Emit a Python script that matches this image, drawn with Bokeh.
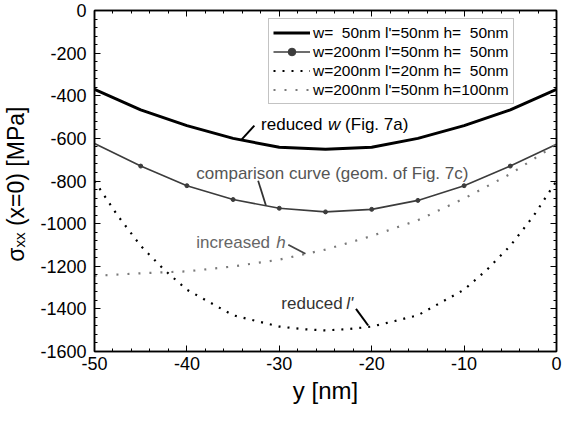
from bokeh.plotting import figure
from bokeh.models import (Label, Legend, LegendItem, LinearAxis, SingleIntervalTicker, Range1d,
                          PrintfTickFormatter)
from bokeh.embed import file_html
from bokeh.resources import INLINE

# ---- data ----
y_nm = [-50, -45, -40, -35, -30, -25, -20, -15, -10, -5, 0]
sigma_w50 = [-370, -466, -540, -600, -642, -651, -642, -600, -540, -466, -370]
sigma_ref = [-624, -730, -822, -887, -928, -945, -933, -891, -822, -730, -628]
sigma_h100 = [-1245, -1233, -1224, -1201, -1169, -1122, -1058, -984, -882, -767, -628]
y_nm_fine = [-50, -47.5, -45, -42.5, -40, -37.5, -35, -32.5, -30, -27.5, -25,
             -22.5, -20, -17.5, -15, -12.5, -10, -7.5, -5, -2.5, 0]
sigma_lp20 = [-800, -962, -1104, -1215, -1310, -1370, -1430, -1457, -1483, -1495, -1501,
              -1495, -1483, -1457, -1430, -1370, -1310, -1215, -1104, -965, -800]

x_ticks = [-50, -40, -30, -20, -10, 0]
y_ticks = [-1600, -1400, -1200, -1000, -800, -600, -400, -200, 0]

legend_labels = ["w=  50nm l'=50nm h=  50nm",
                 "w=200nm l'=50nm h=  50nm",
                 "w=200nm l'=20nm h=  50nm",
                 "w=200nm l'=50nm h=100nm"]

# annotation texts and anchors (data coords)
ann_w = (-31.97, -536)
ann_cmp = (-38.98, -767)
ann_h = (-38.98, -1090)
ann_lp = (-29.78, -1374)
ptr_w = ([-34.06, -32.7], [-605, -540])
ptr_cmp = ([-32.29, -31.45], [-799, -915])
ptr_h = ([-29.03, -27.17], [-1099, -1141])
ptr_lp = ([-21.7, -20.38], [-1400, -1478])

FONT = "Liberation Sans"

p = figure(width=562, height=406, output_backend="svg", toolbar_location=None,
           x_range=Range1d(-50, 0), y_range=Range1d(-1600, 0),
           min_border_left=91, min_border_right=6, min_border_top=10, min_border_bottom=54)
p.xgrid.visible = False
p.ygrid.visible = False
p.outline_line_color = "black"
p.outline_line_width = 1.5
p.background_fill_color = "white"
p.border_fill_color = "white"

p.xaxis.ticker = SingleIntervalTicker(interval=10, num_minor_ticks=5)
p.yaxis.ticker = SingleIntervalTicker(interval=200, num_minor_ticks=5)

for ax in [p.xaxis[0], p.yaxis[0]]:
    ax.formatter = PrintfTickFormatter(format="%d")
    ax.major_tick_in = 6
    ax.major_tick_out = 0
    ax.minor_tick_in = 3
    ax.minor_tick_out = 0
    ax.axis_line_width = 1.5
    ax.axis_line_color = "black"
    ax.major_label_text_font = FONT
    ax.major_label_text_font_size = "18px"
    ax.major_label_text_color = "black"
    ax.axis_label_text_font = FONT
    ax.axis_label_text_font_style = "normal"
    ax.axis_label_text_color = "black"

p.xaxis.axis_label = "y [nm]"
p.xaxis.axis_label_text_font_size = "24px"
p.xaxis.major_label_standoff = 5
p.xaxis.axis_label_standoff = 4
p.yaxis.axis_label = "σₓₓ (x=0)  [MPa]"
p.yaxis.axis_label_text_font_size = "23px"
p.yaxis.major_label_standoff = 8
p.yaxis.axis_label_standoff = 8

top = LinearAxis(ticker=SingleIntervalTicker(interval=10, num_minor_ticks=5),
                 major_label_overrides={v: "" for v in x_ticks})
right = LinearAxis(ticker=SingleIntervalTicker(interval=200, num_minor_ticks=5),
                   major_label_overrides={v: "" for v in y_ticks})
for ax in [top, right]:
    ax.major_tick_in = 6
    ax.major_tick_out = 0
    ax.minor_tick_in = 3
    ax.minor_tick_out = 0
    ax.axis_line_width = 1.5
    ax.axis_line_color = "black"
    ax.major_label_standoff = 0
p.add_layout(top, "above")
p.add_layout(right, "right")

r1 = p.line(y_nm, sigma_w50, line_color="black", line_width=3)
r2 = p.line(y_nm, sigma_ref, line_color="#3c3c3c", line_width=1.6)
r2m = p.scatter(y_nm[1:-1], sigma_ref[1:-1], marker="circle", size=4,
                fill_color="#3c3c3c", line_color="#3c3c3c")
r3 = p.line(y_nm_fine, sigma_lp20, line_color="black", line_width=2.2, line_dash="2 7")
r4 = p.line(y_nm, sigma_h100, line_color="#7a7a7a", line_width=2.2, line_dash="2 9")

legend = Legend(items=[
    LegendItem(label=legend_labels[0], renderers=[r1]),
    LegendItem(label=legend_labels[1], renderers=[r2, r2m]),
    LegendItem(label=legend_labels[2], renderers=[r3]),
    LegendItem(label=legend_labels[3], renderers=[r4]),
])
legend.location = (174, 247)
legend.label_text_font = FONT
legend.label_text_font_size = "15.5px"
legend.label_text_color = "black"
legend.label_height = 19
legend.glyph_height = 19
legend.glyph_width = 37
legend.label_standoff = 3
legend.spacing = 0
legend.padding = 4
legend.margin = 0
legend.border_line_color = "#888888"
legend.border_line_width = 1.2
legend.background_fill_alpha = 1
p.add_layout(legend)

def lab(x, y, text, color="black", style="normal", xoff=0):
    p.add_layout(Label(x=x, y=y, text=text, x_offset=xoff, text_font=FONT,
                       text_font_size="17px", text_color=color, text_font_style=style,
                       text_baseline="middle", text_align="left"))

lab(*ann_w, "reduced")
lab(*ann_w, "w", style="italic", xoff=67)
lab(*ann_w, "(Fig. 7a)", xoff=84)
lab(*ann_cmp, "comparison curve (geom. of Fig. 7c)", color="#555555")
lab(*ann_h, "increased", color="#666666")
lab(*ann_h, "h", color="#666666", style="italic", xoff=80)
lab(*ann_lp, "reduced", color="#333333")
lab(*ann_lp, "l'", color="#333333", style="italic", xoff=65)

p.line(ptr_w[0], ptr_w[1], line_color="black", line_width=2)
p.line(ptr_cmp[0], ptr_cmp[1], line_color="#333333", line_width=1.8)
p.line(ptr_h[0], ptr_h[1], line_color="#444444", line_width=1.8)
p.line(ptr_lp[0], ptr_lp[1], line_color="black", line_width=2)

open("out.html", "w").write(file_html(p, INLINE))
